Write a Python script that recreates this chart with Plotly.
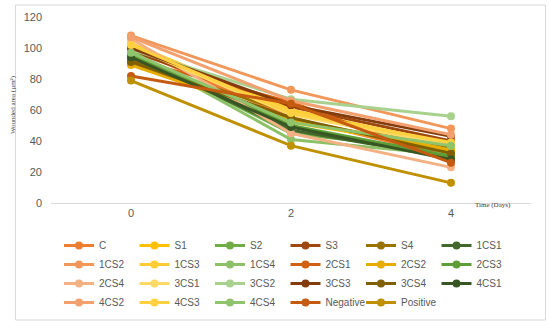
import plotly.graph_objects as go

days = ["0", "2", "4"]

series_names = ["C", "S1", "S2", "S3", "S4", "1CS1",
                "1CS2", "1CS3", "1CS4", "2CS1", "2CS2", "2CS3",
                "2CS4", "3CS1", "3CS2", "3CS3", "3CS4", "4CS1",
                "4CS2", "4CS3", "4CS4", "Negative", "Positive"]

C = [100, 55, 30]
S1 = [90, 52, 35]
S2 = [97, 45, 33]
S3 = [98, 62, 40]
S4 = [92, 58, 36]
CS1_1 = [95, 47, 29]
CS2_1 = [108, 73, 48]
CS3_1 = [103, 60, 38]
CS4_1 = [98, 41, 31]
CS1_2 = [93, 65, 27]
CS2_2 = [89, 54, 34]
CS3_2 = [96, 50, 30]
CS4_2 = [106, 45, 23]
CS1_3 = [101, 57, 37]
CS2_3 = [99, 67, 56]
CS3_3 = [100, 63, 43]
CS4_3 = [91, 55, 32]
CS1_4 = [94, 49, 28]
CS2_4 = [107, 66, 44]
CS3_4 = [102, 58, 39]
CS4_4 = [97, 52, 37]
Negative = [82, 64, 26]
Positive = [79, 37, 13]

values = [C, S1, S2, S3, S4, CS1_1, CS2_1, CS3_1, CS4_1, CS1_2, CS2_2, CS3_2,
          CS4_2, CS1_3, CS2_3, CS3_3, CS4_3, CS1_4, CS2_4, CS3_4, CS4_4,
          Negative, Positive]

colors = ["#ED7D31", "#FFC000", "#70AD47", "#9E480E", "#997300", "#43682B",
          "#F1975A", "#FFCD33", "#8CC168", "#D26012", "#E6AC00", "#5E9E37",
          "#F4B183", "#FFD966", "#A9D18E", "#843C0C", "#806000", "#375623",
          "#F2A06E", "#FFD040", "#90C46C", "#C55A11", "#BF9000"]

fig = go.Figure()
for name, vals, col in zip(series_names, values, colors):
    fig.add_trace(go.Scatter(
        x=days, y=vals, name=name, mode="lines+markers",
        line=dict(color=col, width=3),
        marker=dict(color=col, size=8),
    ))

L, R, T, B = 51, 19, 17, 126
W, H = 550, 329
pw, ph = W - L - R, H - T - B

def px(x):
    return (x - L) / pw

def py(y):
    return (H - B - y) / ph

fig.update_layout(
    width=W, height=H,
    margin=dict(l=L, r=R, t=T, b=B, autoexpand=False),
    paper_bgcolor="white", plot_bgcolor="white",
    font=dict(family="Liberation Sans", color="#595959", size=11),
    xaxis=dict(type="category", range=[-0.5, 2.5], showgrid=False,
               showline=True, linecolor="#D9D9D9", linewidth=1,
               ticks="", zeroline=False, tickfont=dict(size=11, color="#595959")),
    yaxis=dict(range=[0, 120], dtick=20, showgrid=False, zeroline=False,
               showline=False, ticks="", ticklabelstandoff=8,
               tickfont=dict(size=11, color="#595959")),
    legend=dict(orientation="h", x=px(59), xanchor="left", y=py(231), yanchor="top",
                entrywidth=30.5, entrywidthmode="pixels",
                font=dict(size=10, color="#595959"), traceorder="normal"),
    showlegend=True,
)

fig.add_shape(type="rect", xref="paper", yref="paper",
              x0=px(15.5), x1=px(545.5), y0=py(320), y1=py(5),
              line=dict(color="#D9D9D9", width=1), layer="below")

fig.add_annotation(text="Wounded area (µm²)", xref="paper", yref="paper",
                   x=px(7), y=py(105), textangle=-90, showarrow=False,
                   font=dict(family="Liberation Serif", size=7, color="#404040"))
fig.add_annotation(text="Time (Days)", xref="paper", yref="paper",
                   x=px(513), y=py(211), showarrow=False,
                   font=dict(family="Liberation Serif", size=7, color="#404040"))

fig.write_html("out.html", config={"displayModeBar": False},
               post_script="document.body.style.margin='0';")
